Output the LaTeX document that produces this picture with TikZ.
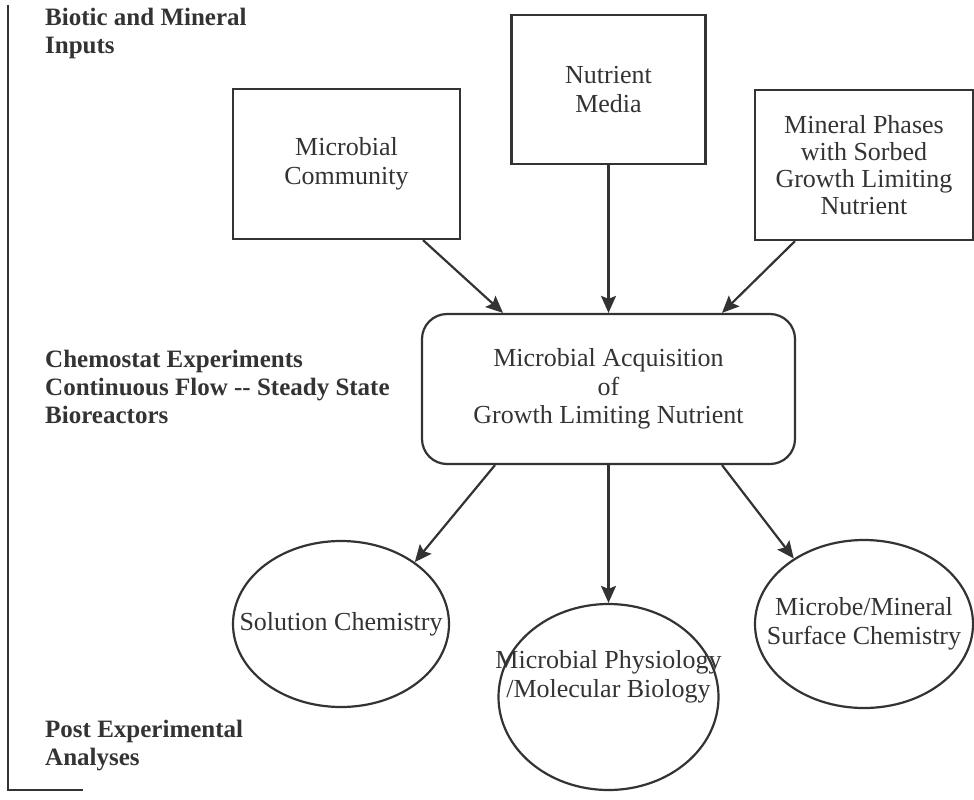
\documentclass[tikz,border=0pt]{standalone}
\usepackage{fontspec}
\setmainfont{Liberation Serif}
\usetikzlibrary{arrows.meta,shapes.geometric}
\definecolor{ink}{gray}{0.2}
\newcommand\zw[1]{\makebox[0pt]{#1}}
\begin{document}
\begin{tikzpicture}[x=1pt,y=-1pt,
  every node/.style={text=ink},
  boxtxt/.style={font=\fontsize{26}{28.5}\selectfont, align=center},
  inbox/.style={boxtxt, draw=ink, line width=2.2pt, rectangle, inner sep=0pt},
  ovalbox/.style={boxtxt, draw=ink, line width=2.2pt, ellipse, inner sep=0pt},
  sidelabel/.style={font=\fontsize{25}{28}\selectfont\bfseries, align=left, anchor=base west, inner sep=0pt},
  flow/.style={draw=ink, line width=2.2pt, -{Stealth[length=17pt,width=15pt,inset=3pt]}}
]
\useasboundingbox (0,0) rectangle (974,800);
\draw[ink, line width=2pt] (8,5) -- (8,790) -- (83,790);

\node[sidelabel] (lab1) at (45,53) {Biotic and Mineral\\Inputs};
\node[sidelabel] (lab2) at (45,423) {Chemostat Experiments\\Continuous Flow -{}- Steady State\\Bioreactors};
\node[sidelabel] (lab3) at (45,765) {Post Experimental\\Analyses};

\node[inbox, minimum width=227pt, minimum height=150pt] (mc) at (346.5,164) {Microbial\\Community};
\node[inbox, minimum width=194pt, minimum height=149pt] (nm) at (608.5,89.5) {Nutrient\\Media};
\node[inbox, minimum width=218pt, minimum height=150pt, font=\fontsize{26}{27}\selectfont] (mp) at (864,165) {Mineral Phases\\with Sorbed\\Growth Limiting\\Nutrient};

\node[inbox, rounded corners=25pt, minimum width=373pt, minimum height=150pt] (acq) at (608.5,389) {Microbial Acquisition\\of\\Growth Limiting Nutrient};

\node[ovalbox, minimum width=216pt, minimum height=166pt] (sol) at (341,624) {\zw{Solution Chemistry}};
\node[ovalbox, minimum width=220pt, minimum height=186pt] (phys) at (608.5,697) {};
\node[boxtxt, inner sep=0pt] (physlbl) at (608.5,677) {\zw{Microbial Physiology}\\\zw{/Molecular Biology}};
\node[ovalbox, minimum width=218pt, minimum height=168pt] (surf) at (864,624) {\zw{Microbe/Mineral}\\\zw{Surface Chemistry}};

\draw[flow] ([xshift=76.5pt]mc.south) -- ([xshift=-105.5pt]acq.north);
\draw[flow] (nm.south) -- (acq.north);
\draw[flow] ([xshift=-69pt]mp.south) -- ([xshift=113.5pt]acq.north);

\draw[flow] ([xshift=-113.5pt]acq.south) -- (sol.40);
\draw[flow] (acq.south) -- (phys.north);
\draw[flow] ([xshift=113.5pt]acq.south) -- (surf.137);
\end{tikzpicture}
\end{document}
